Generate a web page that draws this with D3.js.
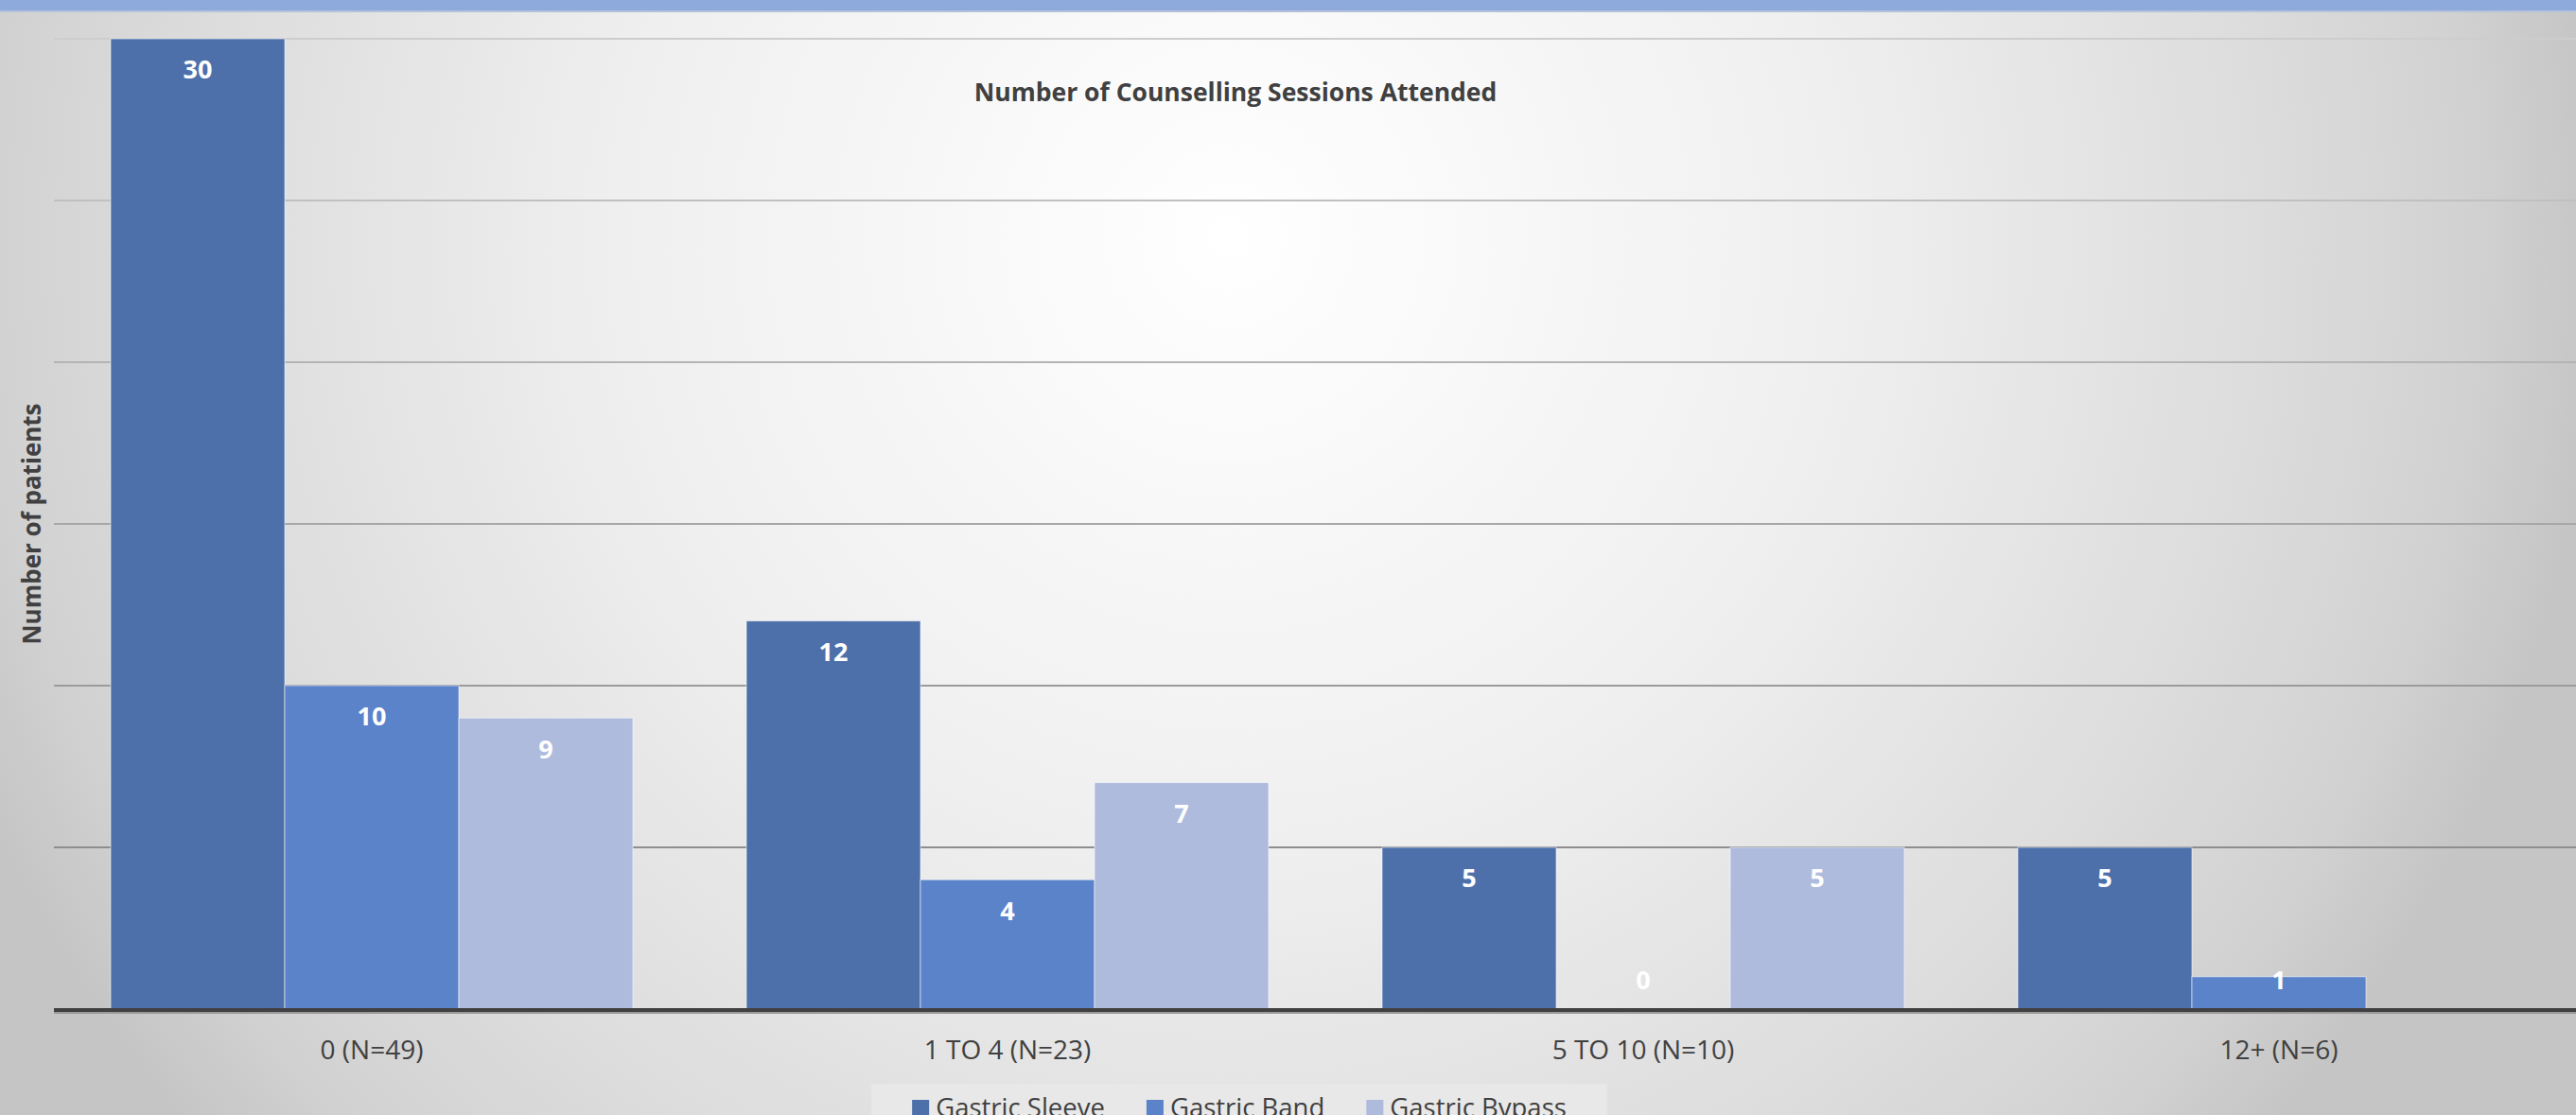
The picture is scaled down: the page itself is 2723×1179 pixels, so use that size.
<!DOCTYPE html>
<html>
<head>
<meta charset="utf-8">
<script src="https://cdn.jsdelivr.net/npm/d3@7"></script>
<style>
  html, body { margin: 0; padding: 0; overflow: hidden; background: #d4d4d4; }
  svg { display: block; }
</style>
</head>
<body>
<script>
// chart data
var categories = ['0 (N=49)', '1 TO 4 (N=23)', '5 TO 10 (N=10)', '12+ (N=6)'];
var seriesNames = ['Gastric Sleeve', 'Gastric Band', 'Gastric Bypass'];
var sleeve = [30, 12, 5, 5];
var band = [10, 4, 0, 1];
var bypass = [9, 7, 5, null];
var yTicks = [0, 5, 10, 15, 20, 25, 30];

var colors = ['#4e70aa', '#5b83c9', '#aebbdd'];
var width = 2723;
var height = 1179;

var svg = d3.select('body').append('svg')
  .attr('width', width)
  .attr('height', height);

var defs = svg.append('defs');
var bg = defs.append('radialGradient')
  .attr('id', 'bg')
  .attr('gradientUnits', 'userSpaceOnUse')
  .attr('cx', 1300).attr('cy', 250).attr('r', 1450);
[[0, '#ffffff'], [0.2, '#f8f8f8'], [0.45, '#efefef'], [0.76, '#dcdcdc'],
 [0.9, '#d2d2d2'], [1, '#c5c5c5']].forEach(function(s) {
  bg.append('stop').attr('offset', s[0]).attr('stop-color', s[1]);
});

svg.append('rect')
  .attr('width', width).attr('height', height)
  .attr('fill', 'url(#bg)');

// blue strip along the top
svg.append('rect')
  .attr('width', width).attr('height', 11)
  .attr('fill', '#8eaadc');
svg.append('rect')
  .attr('y', 11).attr('width', width).attr('height', 2)
  .attr('fill', '#b4c2dc');

var x0 = d3.scaleBand()
  .domain(categories)
  .range([57, 2745])
  .paddingInner(0.1786)
  .paddingOuter(0.0893);

var x1 = d3.scaleBand()
  .domain(seriesNames)
  .range([0, x0.bandwidth()]);

var y = d3.scaleLinear()
  .domain([0, 30])
  .range([1067, 41]);

var gridColor = d3.scaleLinear()
  .domain([30, 5])
  .range(['#cdcdcd', '#8e8e8e']);

svg.append('g')
  .selectAll('line')
  .data(yTicks.filter(function(t) { return t > 0; }))
  .join('line')
  .attr('x1', 57).attr('x2', width)
  .attr('y1', function(d) { return y(d); })
  .attr('y2', function(d) { return y(d); })
  .attr('stroke', function(d) { return gridColor(d); })
  .attr('stroke-width', 2);

var rows = [];
categories.forEach(function(c, i) {
  [sleeve, band, bypass].forEach(function(s, j) {
    if (s[i] === null) return;
    rows.push({ cat: c, series: seriesNames[j], idx: j, value: s[i] });
  });
});

svg.append('g')
  .selectAll('rect')
  .data(rows.filter(function(d) { return d.value > 0; }))
  .join('rect')
  .attr('x', function(d) { return x0(d.cat) + x1(d.series); })
  .attr('y', function(d) { return y(d.value); })
  .attr('width', x1.bandwidth())
  .attr('height', function(d) { return y(0) - y(d.value); })
  .attr('fill', function(d) { return colors[d.idx]; })
  .attr('stroke', 'rgba(255,255,255,0.55)')
  .attr('stroke-width', 1);

// value labels inside end
svg.append('g')
  .selectAll('text')
  .data(rows)
  .join('text')
  .attr('x', function(d) { return x0(d.cat) + x1(d.series) + x1.bandwidth() / 2; })
  .attr('y', function(d) { return Math.min(y(d.value) + 33, 1037); })
  .attr('dy', '0.35em')
  .attr('text-anchor', 'middle')
  .attr('fill', '#ffffff')
  .attr('font-family', 'Open Sans, sans-serif')
  .attr('font-weight', 700)
  .attr('font-size', 27)
  .text(function(d) { return d.value; });

// x axis
svg.append('line')
  .attr('x1', 57).attr('x2', width)
  .attr('y1', 1068).attr('y2', 1068)
  .attr('stroke', '#404040').attr('stroke-width', 4);
svg.append('line')
  .attr('x1', 57).attr('x2', width)
  .attr('y1', 1071).attr('y2', 1071)
  .attr('stroke', '#9a9a9a').attr('stroke-width', 2);

var xAxis = svg.append('g')
  .attr('transform', 'translate(0,1068)')
  .call(d3.axisBottom(x0).tickSize(0).tickPadding(32));
xAxis.select('.domain').remove();
xAxis.selectAll('text')
  .attr('font-family', 'Open Sans, sans-serif')
  .attr('font-size', 28)
  .attr('fill', '#404040');

// titles
svg.append('text')
  .attr('x', 1306).attr('y', 107)
  .attr('text-anchor', 'middle')
  .attr('font-family', 'Open Sans, sans-serif')
  .attr('font-weight', 700)
  .attr('font-size', 26.5)
  .attr('fill', '#404040')
  .text('Number of Counselling Sessions Attended');

svg.append('text')
  .attr('transform', 'translate(43,554) rotate(-90)')
  .attr('text-anchor', 'middle')
  .attr('font-family', 'Open Sans, sans-serif')
  .attr('font-weight', 700)
  .attr('font-size', 26)
  .attr('fill', '#404040')
  .text('Number of patients');

// legend
var legendBox = svg.append('rect')
  .attr('fill', '#e8e8e8');
var legend = svg.append('g');
var lx = 0;
seriesNames.forEach(function(name, i) {
  var g = legend.append('g').attr('transform', 'translate(' + lx + ',0)');
  g.append('rect')
    .attr('x', 0).attr('y', 1163)
    .attr('width', 18).attr('height', 18)
    .attr('fill', colors[i]);
  var t = g.append('text')
    .attr('x', 25).attr('y', 1181)
    .attr('font-family', 'Open Sans, sans-serif')
    .attr('font-size', 27.5)
    .attr('fill', '#404040')
    .text(name);
  lx += 25 + t.node().getComputedTextLength() + 44;
});
var legendW = lx - 44;
var legendX = 1310 - legendW / 2;
legend.attr('transform', 'translate(' + legendX + ',0)');
legendBox
  .attr('x', legendX - 43).attr('y', 1146)
  .attr('width', legendW + 86).attr('height', 60);
</script>
</body>
</html>
